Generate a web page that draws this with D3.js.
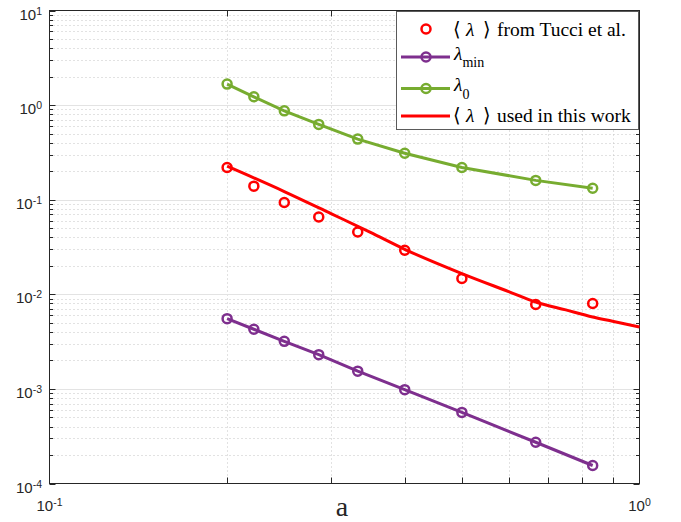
<!DOCTYPE html>
<html>
<head>
<meta charset="utf-8">
<script src="https://cdn.jsdelivr.net/npm/d3@7"></script>
<style>
  html, body { margin: 0; padding: 0; background: #fff; }
  svg { display: block; }
</style>
</head>
<body>
<script>
// Mean free parameter λ versus a, log-log
const aValues     = [0.2, 0.222, 0.25, 0.286, 0.333, 0.4, 0.5, 0.667, 0.833];
const lambdaTucci = [0.219, 0.139, 0.0933, 0.0657, 0.0456, 0.0292, 0.0147, 0.0078, 0.0080];
const lambdaMin   = [0.00553, 0.00427, 0.00318, 0.00230, 0.00154, 0.000982, 0.000564, 0.000273, 0.000155];
const lambda0     = [1.668, 1.224, 0.870, 0.625, 0.437, 0.310, 0.219, 0.160, 0.132];

const aCurve      = [0.2, 0.25, 0.3, 0.35, 0.4, 0.5, 0.6, 0.667, 0.75, 0.833, 0.9, 1.0];
const lambdaUsed  = [0.226, 0.122, 0.0713, 0.0451, 0.0299, 0.01656, 0.01069, 0.0083, 0.00684, 0.00576, 0.0052, 0.00451];

const xTickExps = [-1, 0];
const yTickExps = [-4, -3, -2, -1, 0, 1];

const W = 681, H = 522;
const L = 49.5, R = 639.5, T = 10.5, B = 483.5;

const colRed = "#ff0000", colPurple = "#7e2f8e", colGreen = "#77ac30";
const axisCol = "#262626";

const svg = d3.select("body").append("svg").attr("width", W).attr("height", H);

const x = d3.scaleLog().domain([0.1, 1]).range([L, R]);
const y = d3.scaleLog().domain([1e-4, 10]).range([B, T]);

// grid
const grid = svg.append("g");
const xMinor = [], yMinor = [];
for (let k = 2; k <= 9; k++) xMinor.push(k * 0.1);
for (let e = -4; e < 1; e++) for (let k = 2; k <= 9; k++) yMinor.push(k * Math.pow(10, e));

grid.selectAll(".xm").data(xMinor).join("line")
  .attr("x1", d => Math.round(x(d)) + 0.5).attr("x2", d => Math.round(x(d)) + 0.5)
  .attr("y1", T).attr("y2", B)
  .attr("stroke", "#c4c4c4").attr("stroke-width", 1).attr("stroke-dasharray", "1,3");
grid.selectAll(".ym").data(yMinor).join("line")
  .attr("y1", d => Math.round(y(d)) + 0.5).attr("y2", d => Math.round(y(d)) + 0.5)
  .attr("x1", L).attr("x2", R)
  .attr("stroke", "#c4c4c4").attr("stroke-width", 1).attr("stroke-dasharray", "1,3");
grid.selectAll(".yM").data(yTickExps.slice(1, -1)).join("line")
  .attr("y1", d => Math.round(y(Math.pow(10, d))) + 0.5).attr("y2", d => Math.round(y(Math.pow(10, d))) + 0.5)
  .attr("x1", L).attr("x2", R)
  .attr("stroke", "#e3e3e3").attr("stroke-width", 1.2);

// axes box with inward ticks on all sides
const ax = svg.append("g").attr("stroke", axisCol).attr("stroke-width", 1);
const majLen = 6, minLen = 3.5;
yTickExps.forEach(e => {
  const yy = Math.round(y(Math.pow(10, e))) + 0.5;
  ax.append("line").attr("x1", L).attr("x2", L + majLen).attr("y1", yy).attr("y2", yy);
  ax.append("line").attr("x1", R).attr("x2", R - majLen).attr("y1", yy).attr("y2", yy);
});
yMinor.forEach(v => {
  const yy = Math.round(y(v)) + 0.5;
  ax.append("line").attr("x1", L).attr("x2", L + minLen).attr("y1", yy).attr("y2", yy);
  ax.append("line").attr("x1", R).attr("x2", R - minLen).attr("y1", yy).attr("y2", yy);
});
xMinor.forEach(v => {
  const xx = Math.round(x(v)) + 0.5;
  ax.append("line").attr("x1", xx).attr("x2", xx).attr("y1", B).attr("y2", B - majLen);
  ax.append("line").attr("x1", xx).attr("x2", xx).attr("y1", T).attr("y2", T + majLen);
});
ax.append("rect").attr("x", L).attr("y", T).attr("width", R - L).attr("height", B - T)
  .attr("fill", "none");

// tick labels
const sans = "'Liberation Sans', Arial, Helvetica, sans-serif";
yTickExps.forEach(e => {
  const t = svg.append("text").attr("x", 42).attr("y", y(Math.pow(10, e)) + 9)
    .attr("text-anchor", "end").attr("font-family", sans).attr("font-size", 15).attr("fill", axisCol);
  t.append("tspan").text("10");
  t.append("tspan").attr("dy", -5).attr("font-size", 10.5).text(String(e));
});
xTickExps.forEach(e => {
  const t = svg.append("text").attr("x", x(Math.pow(10, e))).attr("y", 511)
    .attr("text-anchor", "middle").attr("font-family", sans).attr("font-size", 15).attr("fill", axisCol);
  t.append("tspan").text("10");
  t.append("tspan").attr("dy", -5).attr("font-size", 10.5).text(String(e));
});

// axis label
const serif = "'Liberation Serif', 'Times New Roman', 'DejaVu Serif', serif";
svg.append("text").attr("x", 342).attr("y", 516).attr("text-anchor", "middle")
  .attr("font-family", serif).attr("font-size", 28).attr("fill", axisCol).text("a");

// data
const plot = svg.append("g");
const lineGen = (xs, ys) => d3.line().x((d, i) => x(xs[i])).y(d => y(d))(ys);

plot.append("path").attr("d", d3.line().curve(d3.curveMonotoneX)
    .x((d, i) => x(aCurve[i])).y(d => y(d))(lambdaUsed))
  .attr("fill", "none").attr("stroke", colRed).attr("stroke-width", 3);

[[lambdaMin, colPurple], [lambda0, colGreen]].forEach(([vals, col]) => {
  plot.append("path").attr("d", lineGen(aValues, vals))
    .attr("fill", "none").attr("stroke", col).attr("stroke-width", 3);
  plot.selectAll(null).data(vals).join("circle")
    .attr("cx", (d, i) => x(aValues[i])).attr("cy", d => y(d)).attr("r", 4.5)
    .attr("fill", "none").attr("stroke", col).attr("stroke-width", 2.5);
});

plot.selectAll(null).data(lambdaTucci).join("circle")
  .attr("cx", (d, i) => x(aValues[i])).attr("cy", d => y(d)).attr("r", 4.5)
  .attr("fill", "none").attr("stroke", colRed).attr("stroke-width", 2.5);

// legend
const lg = svg.append("g");
lg.append("rect").attr("x", 396.5).attr("y", 11.5).attr("width", 242).attr("height", 118)
  .attr("fill", "#fff").attr("stroke", "#5a5a5a").attr("stroke-width", 1);

const lx1 = 401, lx2 = 450, lmx = 426, tx = 453;
lg.append("circle").attr("cx", lmx).attr("cy", 29).attr("r", 4.5)
  .attr("fill", "none").attr("stroke", colRed).attr("stroke-width", 2.5);
[[57, colPurple], [88.5, colGreen]].forEach(([yy, col]) => {
  lg.append("line").attr("x1", lx1).attr("x2", lx2).attr("y1", yy).attr("y2", yy)
    .attr("stroke", col).attr("stroke-width", 3);
  lg.append("circle").attr("cx", lmx).attr("cy", yy).attr("r", 4.5)
    .attr("fill", "none").attr("stroke", col).attr("stroke-width", 2.5);
});
lg.append("line").attr("x1", lx1).attr("x2", lx2).attr("y1", 116).attr("y2", 116)
  .attr("stroke", colRed).attr("stroke-width", 3);

const fs = 19.5;
const legText = (yy) => lg.append("text").attr("y", yy)
  .attr("font-family", serif).attr("font-size", fs).attr("fill", "#000");

// ⟨ λ ⟩ with math spacing, followed by plain text
function meanLambda(yy, rest) {
  const t = legText(yy);
  t.append("tspan").attr("x", tx).text("⟨");
  t.append("tspan").attr("x", tx + 13).attr("font-style", "italic").text("λ");
  t.append("tspan").attr("x", tx + 30).text("⟩");
  t.append("tspan").attr("x", tx + 44).text(rest);
}
meanLambda(35.5, "from Tucci et al.");

let t2 = legText(60).attr("x", tx + 1);
t2.append("tspan").attr("font-style", "italic").text("λ");
t2.append("tspan").attr("dy", 6.5).attr("font-size", 14).text("min");

let t3 = legText(91).attr("x", tx + 1);
t3.append("tspan").attr("font-style", "italic").text("λ");
t3.append("tspan").attr("dy", 7.5).attr("font-size", 14).text("0");

meanLambda(122, "used in this work");
</script>
</body>
</html>
